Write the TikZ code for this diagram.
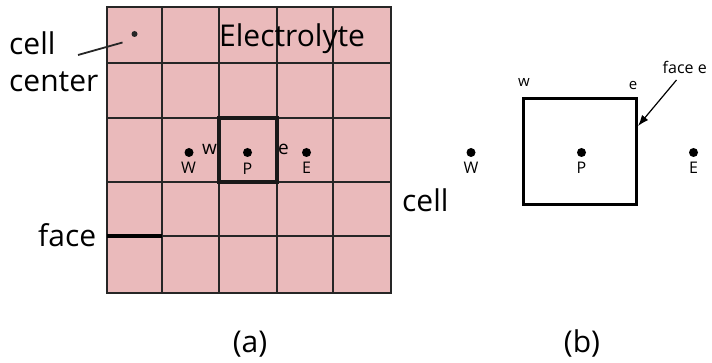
\documentclass[tikz,border=0pt]{standalone}
\usepackage{fontspec}
\setmainfont{Open Sans}
\usetikzlibrary{arrows.meta}
\definecolor{electro}{RGB}{234,186,187}
\begin{document}
\begin{tikzpicture}[x=1pt,y=-1pt,
  big/.style={inner sep=0pt,font=\fontsize{30}{32}\selectfont},
  lab/.style={inner sep=0pt,anchor=base,font=\fontsize{16}{17}\selectfont},
  slab/.style={inner sep=0pt,anchor=base,font=\fontsize{16}{17}\selectfont},
  gridline/.style={line width=1.5pt,black!85},
  dotfill/.style={circle,fill=black,inner sep=0pt,minimum size=9pt},
  smalldot/.style={circle,fill=black!85,inner sep=0pt,minimum size=6pt}]
\useasboundingbox (0,0) rectangle (712,363);
% (a) grid
\fill[electro] (107,7) rectangle (391,293);
\foreach \xx in {162,219,277,333}
  \draw[gridline] (\xx,7) -- (\xx,293);
\foreach \yy in {63,118,182,236}
  \draw[gridline] (107,\yy) -- (391,\yy);
\draw[line width=2.8pt,black!85] (107,7) rectangle (391,293);
\draw[line width=3.5pt,black!90] (219,118) rectangle (277,182);
\draw[line width=4pt] (107,236) -- (162,236);
\node[smalldot] (cc) at (134.5,34) {};
\node[dotfill] (Wa) at (189,152.5) {};
\node[dotfill] (Pa) at (247.5,152.5) {};
\node[dotfill] (Ea) at (306.5,152.5) {};
\node[lab] (Wal) at (188.5,174) {W};
\node[lab] (Pal) at (247.5,175) {P};
\node[lab] (Eal) at (306.5,174) {E};
\node[lab,font=\fontsize{19}{19}\selectfont] (wal) at (209.5,155) {w};
\node[lab,font=\fontsize{19}{19}\selectfont] (eal) at (283.5,155) {e};
\node[big,anchor=base west] (elec) at (219,46.5) {Electrolyte};
\node[big,anchor=base west] (cell) at (9,54.5) {cell};
\node[big,anchor=base west] (center) at (9,91.5) {center};
\node[big,anchor=base west] (face) at (38,246.5) {face};
\coordinate (ccA) at (78,55);
\coordinate (ccB) at (122.5,42.5);
\draw[line width=1.8pt,black!85] (ccA) -- (ccB);
\node[big,anchor=base] (la) at (250,352) {(a)};
% (b)
\draw[line width=3pt] (523.5,98.5) rectangle (636.5,205);
\node[dotfill] (Wb) at (471,152.5) {};
\node[dotfill] (Pb) at (581.5,152.5) {};
\node[dotfill] (Eb) at (693.5,152.5) {};
\node[slab] (Wbl) at (471,174) {W};
\node[slab] (Pbl) at (581.5,174) {P};
\node[slab] (Ebl) at (693.5,174) {E};
\node[slab,font=\fontsize{15}{16}\selectfont] (wbl) at (524,87) {w};
\node[slab,font=\fontsize{15}{16}\selectfont] (ebl) at (633,90) {e};
\node[slab,anchor=base west] (facee) at (662.5,74) {face e};
\coordinate (fA) at (676.5,80);
\coordinate (fB) at (638,126);
\draw[line width=1.2pt,-{Latex[length=11pt,width=8pt]}] (fA) -- (fB);
\node[big,anchor=base west] (cellb) at (402,211.5) {cell};
\node[big,anchor=base] (lb) at (582,352) {(b)};
\end{tikzpicture}
\end{document}
